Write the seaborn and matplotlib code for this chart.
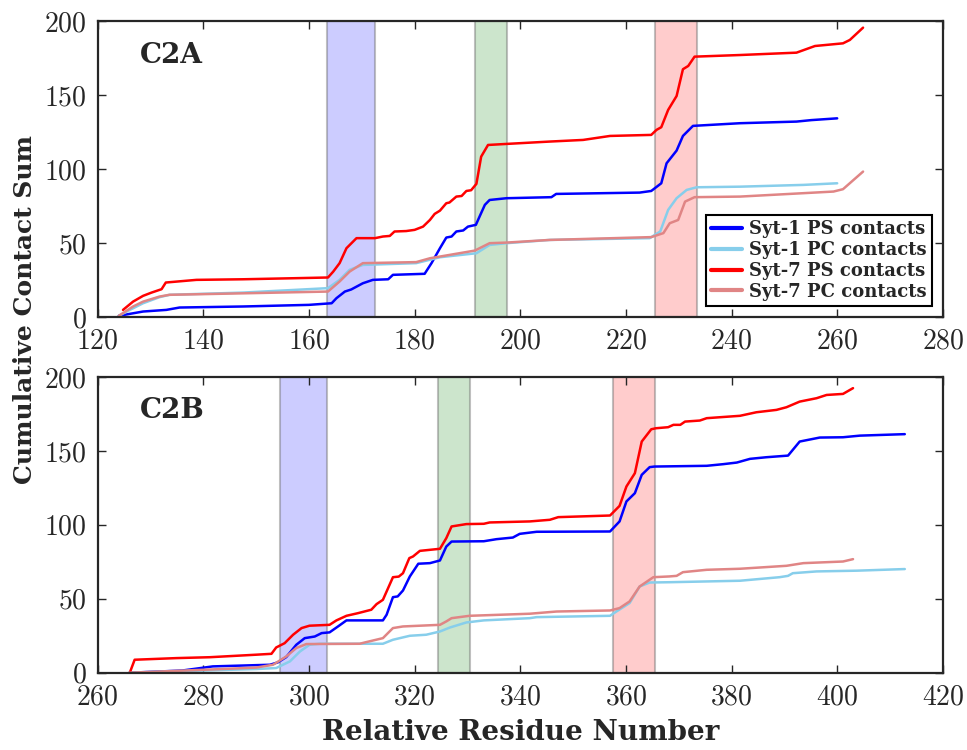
import matplotlib
matplotlib.use("Agg")
import matplotlib.pyplot as plt
import seaborn as sns

# ---- C2A domain ----
c2a_syt1_ps_x = [124, 128.6, 133, 135.5, 147.5, 160, 164.3, 165.2, 166.8, 168, 170.2, 172.1, 175, 175.9,
                 181.9, 183.2, 184.8, 186, 187, 187.9, 189.2, 190.1, 191.6, 192.3, 193.3, 194.2, 197.4,
                 205.9, 206.8, 222.6, 224.8, 226.7, 227.7, 229.6, 230.8, 232.7, 241.6, 252.3, 255.1, 260]
c2a_syt1_ps_y = [0.7, 3.6, 4.7, 6.3, 7, 8.1, 9.2, 12.6, 17.1, 18.5, 22.7, 25, 25.4, 28.4,
                 29.1, 36.3, 46.4, 53.6, 54.3, 57.7, 58.4, 61, 62.2, 67.8, 75.7, 79, 80.2,
                 80.9, 83.1, 84, 85.1, 90.3, 103.8, 112.4, 122.3, 129.1, 130.9, 132, 133, 134.2]

c2a_syt1_pc_x = [124, 126.1, 128.6, 131.7, 133.6, 147.5, 163.6, 165.8, 167.7, 170.2, 180.3, 184.8, 191.7,
                 194.2, 197.4, 205.6, 224.5, 226.5, 228, 229.6, 231.5, 233.4, 241.6, 253.6, 260]
c2a_syt1_pc_y = [0.7, 4.7, 9.2, 13.3, 14.9, 16.4, 19.4, 25, 31.8, 35.1, 36.3, 40.3, 43,
                 48.6, 49.8, 52, 53.2, 57.7, 72.3, 80.2, 85.8, 87.6, 88, 89.2, 90.3]

c2a_syt7_ps_x = [124.8, 126.7, 128.6, 130.2, 132.1, 132.9, 138.7, 147.5, 157, 163.6, 164.6, 165.8, 167.1,
                 169, 172.5, 174, 175.3, 176.2, 178.4, 180, 181.6, 182.9, 183.8, 184.8, 186, 186.6,
                 187.9, 188.9, 189.8, 190.7, 191.7, 192.6, 193.9, 197.4, 205.6, 211.9, 217, 224.8,
                 225.8, 226.7, 228, 229.6, 230.8, 231.8, 233, 241.6, 252.3, 255.8, 261.1, 262.4, 264.9]
c2a_syt7_ps_y = [4.7, 10.3, 14.2, 16.4, 18.7, 23.2, 25, 25.4, 26.1, 26.6, 30.6, 36.3, 46.4,
                 53.2, 53.2, 54.3, 54.7, 57.7, 58, 58.8, 61, 65.5, 69.6, 71.8, 76.8, 77.3,
                 81.3, 81.7, 85.1, 85.6, 89.9, 108.3, 116.2, 116.9, 118.5, 119.6, 122.3, 123,
                 126.4, 128.2, 139.9, 149.3, 167.4, 169.6, 175.9, 177, 178.6, 183.1, 184.9, 187.2, 195.5]

c2a_syt7_pc_x = [124, 126.7, 128.6, 131.7, 133.6, 147.5, 163.6, 165.8, 167.7, 170.2, 180.3, 182.9, 191.4,
                 194.2, 197.4, 205.6, 224.8, 227.1, 228.3, 229.9, 231.2, 233, 241.6, 253.6, 259.3,
                 261.1, 264.9]
c2a_syt7_pc_y = [0.7, 7, 10.3, 13.7, 14.9, 15.9, 17.1, 23.9, 30.6, 36.3, 37, 39.6, 44.8,
                 49.8, 50.2, 52, 53.9, 56.6, 63.3, 65.5, 77.9, 80.9, 81.3, 83.6, 84.7,
                 86.3, 98.2]

# ---- C2B domain ----
c2b_syt1_ps_x = [266, 276, 281.8, 292.6, 294.1, 295.7, 297.6, 299.2, 301.1, 302.4, 303.9, 305.5, 307.1,
                 314, 314.7, 315.9, 316.8, 317.8, 319.1, 320.7, 322.9, 324.8, 326, 327, 333.1, 335.5,
                 338.6, 339.9, 343.1, 357, 358.8, 360.1, 361.7, 363, 364.5, 365.4, 375.3, 378.4, 381,
                 383.5, 386.6, 390.7, 392.9, 396.7, 401.1, 404.3, 412.8]
c2b_syt1_ps_y = [0, 1.5, 4.3, 5.4, 7, 10.6, 18.9, 23.4, 24.5, 26.8, 27.3, 31.3, 35.4,
                 35.4, 39.2, 51.1, 51.6, 55.6, 65.1, 73.7, 74.1, 75.9, 85.3, 88.7, 88.9, 90.3,
                 91.4, 93.9, 95.3, 95.5, 102.3, 115.8, 121.4, 133.8, 139, 139.4, 139.9, 141, 142.1,
                 144.6, 145.7, 146.8, 156.3, 159, 159.2, 160.3, 161.3]

c2b_syt1_pc_x = [266, 280, 290, 293.8, 296.4, 298.3, 300.1, 302, 309.6, 314, 315.9, 319.1, 322.2, 324.8,
                 326.7, 329.8, 333.1, 341.8, 343.1, 357, 358.2, 360.7, 362.6, 364.5, 368.2, 381.6,
                 389.1, 390.7, 391.6, 396.1, 403.7, 412.8]
c2b_syt1_pc_y = [0, 1.5, 2.5, 3.2, 7.7, 14.4, 18.9, 19.6, 19.6, 19.6, 22.3, 25, 25.7, 27.9,
                 30.6, 34, 35.4, 36.9, 37.6, 38.5, 41.4, 47.1, 58.3, 61, 61.2, 62.2,
                 64.6, 65.5, 67.3, 68.5, 69, 70.1]

c2b_syt7_ps_x = [266.1, 267, 274.9, 281.2, 290, 292.9, 293.8, 295.4, 297, 298.6, 300.1, 303.9, 305.2,
                 307.1, 309.3, 311.8, 312.8, 314, 315.9, 317, 317.8, 319, 319.7, 321, 324.8, 326,
                 327, 329.8, 333.1, 334.2, 341.8, 345.6, 347.2, 357, 358.8, 360.1, 361.7, 363,
                 364.8, 365.7, 368, 369, 370.3, 371.2, 374, 375.3, 381.6, 384.7, 388.5, 390.4,
                 392.9, 396.1, 398, 401.1, 403]
c2b_syt7_ps_y = [0.2, 8.8, 9.9, 10.5, 12.2, 12.8, 17.1, 20, 25.7, 30.2, 31.8, 32.4, 35.4,
                 38.5, 40.3, 42.6, 46.4, 49.3, 64.6, 65, 67.3, 77.5, 78.6, 82.4, 83.8, 91,
                 98.9, 100.5, 100.7, 101.6, 102.3, 103.4, 105.2, 106.3, 112.8, 125.9, 134.9, 156.3,
                 164.6, 165.3, 166, 167.6, 167.6, 169.8, 170.5, 172.1, 173.7, 176.1, 177.7, 179.5,
                 183.3, 185.6, 187.8, 188.5, 192.4]

c2b_syt7_pc_x = [266, 280, 290, 293.2, 295.7, 297.6, 299.5, 309.6, 310.6, 314, 315.9, 317.8, 324.8, 326,
                 327, 330.4, 341.8, 346.9, 357, 358.8, 360.7, 362.6, 365.2, 368.2, 369.6, 370.8,
                 375.3, 381.6, 390.4, 393.6, 401.1, 403]
c2b_syt7_pc_y = [0, 2, 3.5, 5.4, 11, 16.7, 19.4, 19.6, 20.5, 23.4, 30.2, 31.3, 32.4, 34.7,
                 36.9, 38.5, 39.9, 41.4, 42.1, 43.7, 48.2, 58.3, 64.6, 65.1, 65.5, 68,
                 69.6, 70.3, 72.3, 74.1, 75.2, 76.8]

# highlighted loop regions (start, end) for each panel
c2a_regions = [(163.5, 172.5), (191.5, 197.5), (225.5, 233.5)]
c2b_regions = [(294.5, 303.5), (324.5, 330.5), (357.5, 365.5)]
region_colors = ['#0000ff', '#008000', '#ff0000']

labels = ['Syt-1 PS contacts', 'Syt-1 PC contacts', 'Syt-7 PS contacts', 'Syt-7 PC contacts']
colors = ['#0000ff', '#87ceeb', '#ff0000', '#e08585']

sns.set_style("ticks")
plt.rcParams['font.family'] = ['cmr10', 'DejaVu Serif']
plt.rcParams['axes.formatter.use_mathtext'] = True
plt.rcParams['axes.linewidth'] = 1.6

bold = {'family': 'DejaVu Serif', 'weight': 'bold'}

fig, axes = plt.subplots(2, 1, figsize=(9.67, 7.5), dpi=100)
fig.subplots_adjust(left=0.101, right=0.975, top=0.972, bottom=0.103, hspace=0.203)

panels = [
    (axes[0], 'C2A', (120, 280), c2a_regions,
     [(c2a_syt1_ps_x, c2a_syt1_ps_y), (c2a_syt1_pc_x, c2a_syt1_pc_y),
      (c2a_syt7_ps_x, c2a_syt7_ps_y), (c2a_syt7_pc_x, c2a_syt7_pc_y)]),
    (axes[1], 'C2B', (260, 420), c2b_regions,
     [(c2b_syt1_ps_x, c2b_syt1_ps_y), (c2b_syt1_pc_x, c2b_syt1_pc_y),
      (c2b_syt7_ps_x, c2b_syt7_ps_y), (c2b_syt7_pc_x, c2b_syt7_pc_y)]),
]

for ax, name, xlim, regions, series in panels:
    # shaded regions
    for (x0, x1), c in zip(regions, region_colors):
        rgb = matplotlib.colors.to_rgb(c)
        ax.axvspan(x0, x1, facecolor=rgb + (0.2,), edgecolor=(0.45, 0.45, 0.45, 0.45),
                   lw=1.5, zorder=0)
    # curves
    for (xs, ys), lab, c in zip(series, labels, colors):
        sns.lineplot(x=xs, y=ys, ax=ax, color=c, lw=1.8, label=lab,
                     estimator=None, sort=False, legend=False)
    ax.set_xlim(*xlim)
    ax.set_ylim(0, 200)
    ax.set_xticks(range(xlim[0], xlim[1] + 1, 20))
    ax.set_yticks([0, 50, 100, 150, 200])
    ax.tick_params(direction='in', top=True, right=True, length=6, width=1,
                   labelsize=20, pad=8)
    ax.text(0.05, 0.885, name, transform=ax.transAxes, fontsize=20,
            va='center', ha='left', **bold)
    ax.set_xlabel('')
    ax.set_ylabel('')

leg = axes[0].legend(loc='lower right', prop={'family': 'DejaVu Serif', 'weight': 'bold', 'size': 13},
                     frameon=True, fancybox=False, edgecolor='black', framealpha=1,
                     handlelength=1.7, labelspacing=0.15, borderpad=0.3,
                     borderaxespad=0.6, handletextpad=0.4)
leg.get_frame().set_linewidth(1.5)
for h in leg.get_lines():
    h.set_linewidth(3)

axes[1].set_xlabel('Relative Residue Number', fontsize=20, labelpad=6, **bold)
fig.text(0.026, 0.587, 'Cumulative Contact Sum', fontsize=18,
         rotation=90, ha='center', va='center', **bold)

fig.savefig('out.png', dpi=100)
